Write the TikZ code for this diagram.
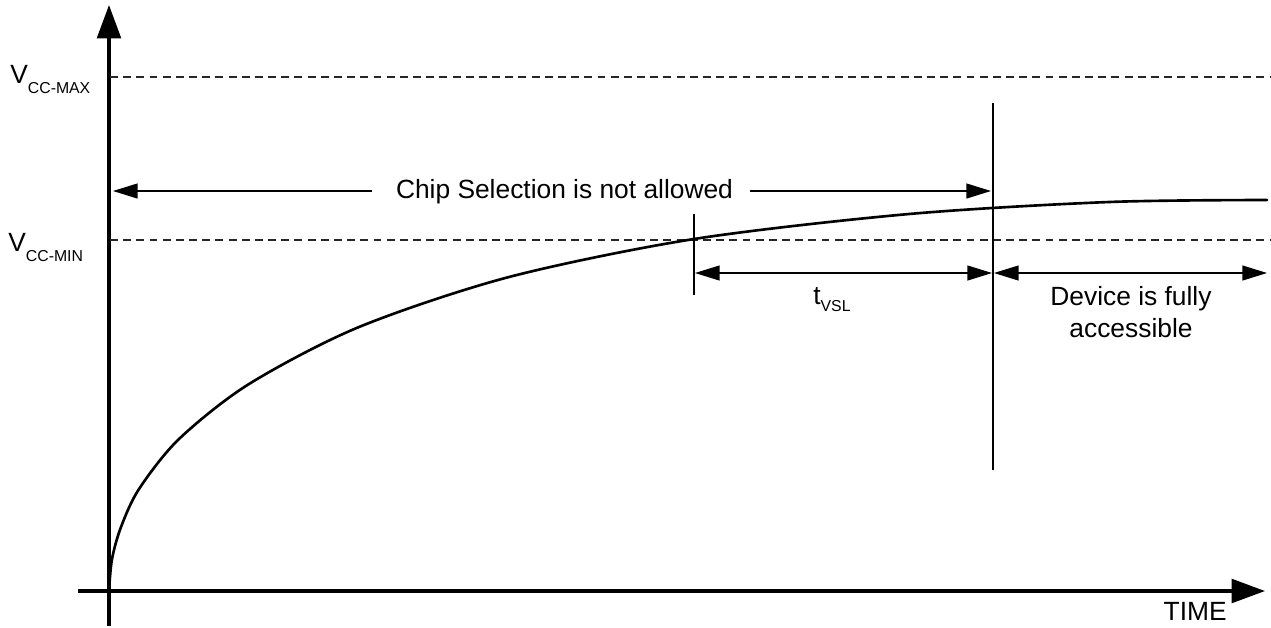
\documentclass[tikz,border=0pt]{standalone}
\usepackage{fontspec}
\setmainfont{Liberation Sans}
\usetikzlibrary{arrows.meta}

\newcommand{\lowsub}[2][-5.7pt]{\raisebox{#1}{\fontsize{9}{10}\selectfont #2}}

\begin{document}
\begin{tikzpicture}[
  x=0.02cm, y=-0.02cm,
  lbl/.style={font=\fontsize{15}{18}\selectfont, inner sep=0pt},
  axis/.style={draw=black, line width=1.9pt, -{Triangle[length=19pt, width=13.5pt]}},
  curve/.style={draw=black, line width=1.5pt, line cap=round},
  vccline/.style={draw=black!85, line width=1.3pt, dash pattern=on 4.5pt off 3pt},
  thinline/.style={draw=black, line width=0.7pt},
  dimarrow/.style={thinline, -{Triangle[length=14pt, width=8.5pt]}},
  dimboth/.style={thinline, {Triangle[length=14pt, width=8.5pt]}-{Triangle[length=14pt, width=8.5pt]}}
]
\useasboundingbox (0,0) rectangle (1271,627);

% axes
\coordinate (ybot) at (109,626);
\coordinate (ytop) at (109,5);
\coordinate (xbeg) at (78,591);
\coordinate (xend) at (1265,591);
\draw[axis] (ybot) -- (ytop);
\draw[axis] (xbeg) -- (xend);

% supply levels
\coordinate (maxl) at (110,77);
\coordinate (maxr) at (1271,77);
\coordinate (minl) at (110,240);
\coordinate (minr) at (1271,240);
\draw[vccline] (maxl) -- (maxr);
\draw[vccline] (minl) -- (minr);
\node[lbl, anchor=base west] (vmax) at (10,83) {V\lowsub{CC-MAX}};
\node[lbl, anchor=base west] (vmin) at (8,251) {V\lowsub{CC-MIN}};

% ramp of VCC
\draw[curve] plot[smooth, tension=0.5] coordinates {(109,591) (112,559) (121,527)
  (139,489) (179,439) (249,384) (359,327) (509,277) (694,239) (909,214)
  (1109,202) (1267,200)};

% markers
\coordinate (tvsltop) at (694,214);
\coordinate (tvslbot) at (694,295);
\coordinate (acctop) at (993,103);
\coordinate (accbot) at (993,470);
\draw[thinline] (tvsltop) -- (tvslbot);
\draw[thinline] (acctop) -- (accbot);

% chip selection
\node[lbl, anchor=base] (chip) at (564.5,198) {Chip Selection is not allowed};
\coordinate (chipl) at (372,191);
\coordinate (chipltip) at (113,191);
\coordinate (chipr) at (750,191);
\coordinate (chiprtip) at (991,191);
\draw[dimarrow] (chipl) -- (chipltip);
\draw[dimarrow] (chipr) -- (chiprtip);

% tVSL and access
\coordinate (tvsll) at (695,273);
\coordinate (tvslr) at (992,273);
\coordinate (devl) at (994,273);
\coordinate (devr) at (1267,273);
\draw[dimboth] (tvsll) -- (tvslr);
\draw[dimboth] (devl) -- (devr);
\node[lbl, anchor=base west] (tvsl) at (813,304) {t\lowsub[-4pt]{VSL}};
\node[lbl, anchor=north, align=center] (dev) at (1131,286) {Device is fully\\accessible};

\node[lbl, anchor=base east] (time) at (1227,620) {TIME};

\end{tikzpicture}
\end{document}
